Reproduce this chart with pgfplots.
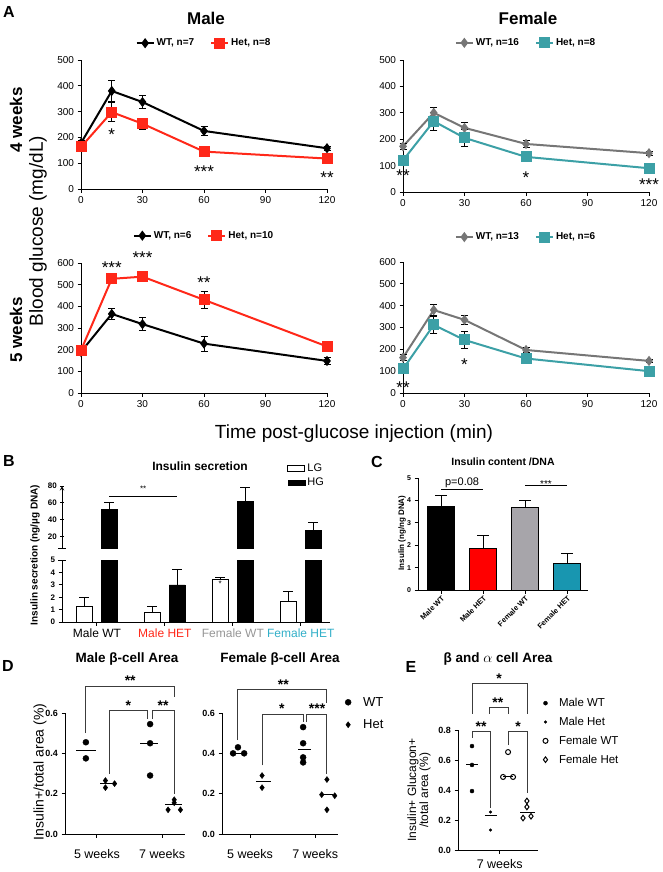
\documentclass[border=0pt]{standalone}
\usepackage{pgfplots}
\pgfplotsset{compat=1.18}
\usepackage{fontspec}
\setmainfont{Liberation Sans}
\definecolor{hetred}{RGB}{255,40,25}
\definecolor{fwt}{RGB}{118,118,118}
\definecolor{fhet}{RGB}{60,160,166}
\definecolor{cgray}{RGB}{167,165,170}
\definecolor{cteal}{RGB}{24,150,176}
\definecolor{lblgray}{RGB}{150,150,150}
\definecolor{lblteal}{RGB}{50,175,200}
\definecolor{brk}{RGB}{60,60,60}
\newcommand{\fs}[1]{\fontsize{#1}{#1}\selectfont}
\pgfplotsset{
  base/.style={scale only axis, axis lines=left, axis line style={-, line width=1pt}, tick style={line width=1pt, black}, tick align=outside, major tick length=3.5pt, clip=false, /pgf/number format/assume math mode=true},
  ogtt/.style={base, width=246pt, xmin=0, xmax=120, xtick={0,30,60,90,120}, ymin=0, ticklabel style={font=\fs{10}},
    legend style={draw=none, fill=none, legend columns=2, font=\bfseries\fs{10}, /tikz/every even column/.append style={column sep=14pt}, anchor=center, inner sep=0pt},
    error bars/y dir=both, error bars/y explicit, error bars/error bar style={line width=0.9pt, black}, error bars/error mark options={rotate=90, mark size=3.5pt, line width=0.9pt, black}},
  wtl/.style={line width=2pt, mark=diamond*, mark size=3.5pt},
  hetl/.style={line width=2pt, mark=square*, mark size=4.5pt},
  barerr/.style={error bars/y dir=plus, error bars/y explicit, error bars/error bar style={line width=1pt, black}, error bars/error mark options={rotate=90, mark size=#1, line width=1pt, black}},
  dec1/.style={/pgf/number format/.cd, fixed, fixed zerofill, precision=1},
}
\begin{document}
\begin{tikzpicture}
\path[use as bounding box] (0pt,0pt) rectangle (663pt,-872pt);

% ---------------- Panel A ----------------
\node[font=\bfseries\fs{16}] at (9pt,-12pt) {A};
\node[font=\bfseries\fs{17}] at (206pt,-18pt) {Male};
\node[font=\bfseries\fs{17}] at (528pt,-18pt) {Female};
\node[font=\bfseries\fs{17}, rotate=90] at (16pt,-120pt) {4 weeks};
\node[font=\bfseries\fs{17}, rotate=90] at (16pt,-330pt) {5 weeks};
\node[font=\fs{19}, rotate=90] at (38pt,-231pt) {Blood glucose (mg/dL)};
\node[font=\fs{19}] at (354pt,-434pt) {Time post-glucose injection (min)};

\begin{axis}[ogtt, at={(81pt,-189pt)}, anchor=south west, height=129pt, ymax=500, ytick={0,100,200,300,400,500}, legend style={at={(0.5,1.13)}}]
\addplot[wtl, black] coordinates {(0,178) +- (0,10) (15,380) +- (0,40) (30,337) +- (0,25) (60,225) +- (0,18) (120,158) +- (0,8)};
\addplot[hetl, hetred] coordinates {(0,163) +- (0,12) (15,298) +- (0,38) (30,253) +- (0,22) (60,145) +- (0,8) (120,118) +- (0,8)};
\legend{{WT, n=7},{Het, n=8}}
\node[font=\fs{17}, anchor=north] at (axis cs:15,248) {*};
\node[font=\fs{17}, anchor=north] at (axis cs:60,105) {***};
\node[font=\fs{17}, anchor=north] at (axis cs:120,81) {**};
\end{axis}

\begin{axis}[ogtt, at={(403pt,-192pt)}, anchor=south west, height=132pt, ymax=500, ytick={0,100,200,300,400,500}, legend style={at={(0.5,1.13)}}]
\addplot[wtl, fwt] coordinates {(0,173) +- (0,12) (15,300) +- (0,20) (30,243) +- (0,20) (60,182) +- (0,12) (120,147) +- (0,8)};
\addplot[hetl, fhet] coordinates {(0,120) +- (0,15) (15,268) +- (0,33) (30,205) +- (0,33) (60,133) +- (0,15) (120,90) +- (0,8)};
\legend{{WT, n=16},{Het, n=8}}
\node[font=\fs{17}, anchor=north] at (axis cs:0,98) {**};
\node[font=\fs{17}, anchor=north] at (axis cs:60,91) {*};
\node[font=\fs{17}, anchor=north] at (axis cs:120,64) {***};
\end{axis}

\begin{axis}[ogtt, at={(81pt,-393pt)}, anchor=south west, height=130pt, ymax=600, ytick={0,100,200,300,400,500,600}, legend style={at={(0.5,1.21)}}]
\addplot[wtl, black] coordinates {(0,190) +- (0,10) (15,365) +- (0,25) (30,318) +- (0,30) (60,228) +- (0,35) (120,148) +- (0,15)};
\addplot[hetl, hetred] coordinates {(0,197) +- (0,12) (15,527) +- (0,18) (30,537) +- (0,12) (60,430) +- (0,40) (120,215) +- (0,25)};
\legend{{WT, n=6},{Het, n=10}}
\node[font=\fs{17}, anchor=north] at (axis cs:15,623) {***};
\node[font=\fs{17}, anchor=north] at (axis cs:30,669) {***};
\node[font=\fs{17}, anchor=north] at (axis cs:60,554) {**};
\end{axis}

\begin{axis}[ogtt, at={(403pt,-393pt)}, anchor=south west, height=131pt, ymax=600, ytick={0,100,200,300,400,500,600}, legend style={at={(0.5,1.19)}}]
\addplot[wtl, fwt] coordinates {(0,162) +- (0,15) (15,380) +- (0,25) (30,335) +- (0,20) (60,197) +- (0,12) (120,147) +- (0,8)};
\addplot[hetl, fhet] coordinates {(0,110) +- (0,15) (15,312) +- (0,40) (30,243) +- (0,40) (60,158) +- (0,22) (120,100) +- (0,8)};
\legend{{WT, n=13},{Het, n=6}}
\node[font=\fs{17}, anchor=north] at (axis cs:0,69) {**};
\node[font=\fs{17}, anchor=north] at (axis cs:30,174) {*};
\end{axis}

% ---------------- Panel B ----------------
\node[font=\bfseries\fs{16}] at (9pt,-461pt) {B};
\node[font=\bfseries\fs{12}] at (200pt,-466pt) {Insulin secretion};
\node[font=\bfseries\fs{10}, rotate=90] at (35pt,-555pt) {Insulin secretion (ng/µg DNA)};

\begin{axis}[base, barerr=5pt, clip=true, clip mode=individual, at={(62pt,-548pt)}, anchor=south west, width=268pt, height=62pt, xmin=0.485, xmax=4.43, ymin=6, ymax=80, axis x line=none, axis y line=left, ytick={20,40,60,80}, extra y ticks={6}, extra y tick labels={}, extra y tick style={tick align=center, major tick length=8pt}, yticklabel style={font=\bfseries\fs{8}},
  legend style={draw=none, fill=none, at={(0.84,1.39)}, anchor=north west, font=\fs{11}, inner sep=0pt, row sep=1pt}, legend cell align=left]
\addlegendimage{area legend, draw=black, fill=white, line width=1pt}
\addlegendimage{area legend, draw=black, fill=black}
\addplot[ybar, bar width=16pt, draw=black, fill=black] coordinates {(1.18,52) +- (0,8) (3.18,62) +- (0,16) (4.18,27) +- (0,10)};
\legend{LG, HG}
\draw[line width=1pt] (axis cs:1.18,68) -- (axis cs:2.18,68);
\node[font=\fs{8}, anchor=north] at (axis cs:1.68,84) {**};
\end{axis}

\begin{axis}[base, barerr=5pt, clip=true, clip mode=individual, at={(62pt,-622pt)}, anchor=south west, width=268pt, height=62pt, xmin=0.485, xmax=4.43, ymin=0, ymax=5, ytick={0,1,2,3,4,5}, extra y ticks={5}, extra y tick labels={}, extra y tick style={tick align=center, major tick length=8pt}, yticklabel style={font=\bfseries\fs{8}}, xtick={1,2,3,4}, xticklabels={Male WT, \textcolor{hetred}{Male HET}, \textcolor{lblgray}{Female WT}, \textcolor{lblteal}{Female HET}}, xticklabel style={font=\fs{12}}]
\addplot[ybar, bar width=16pt, draw=black, fill=white, line width=1pt] coordinates {(0.815,1.25) +- (0,0.75) (1.815,0.8) +- (0,0.45) (2.815,3.4) +- (0,0.2) (3.815,1.65) +- (0,0.8)};
\addplot[ybar, bar width=16pt, draw=black, fill=black] coordinates {(1.18,52) +- (0,8) (2.18,3.0) +- (0,1.25) (3.18,62) +- (0,16) (4.18,27) +- (0,10)};
\node[font=\fs{8}, anchor=north] at (axis cs:2.815,3.63) {*};
\end{axis}

% ---------------- Panel C ----------------
\node[font=\bfseries\fs{16}] at (377pt,-462pt) {C};
\node[font=\bfseries\fs{10.5}] at (503pt,-462pt) {Insulin content /DNA};
\node[font=\bfseries\fs{8}, rotate=90] at (402pt,-533pt) {Insulin (ng/ng DNA)};
\begin{axis}[base, barerr=6pt, clip=true, clip mode=individual, at={(418pt,-590pt)}, anchor=south west, width=170pt, height=112pt, xmin=0.45, xmax=4.5, ymin=0, ymax=5, ytick={0,1,2,3,4,5}, yticklabel style={font=\bfseries\fs{7}}, xtick={1,2,3,4}, xticklabels={Male WT, Male HET, Female WT, Female HET}, xticklabel style={font=\bfseries\fs{7.5}, rotate=45, anchor=north east, inner sep=1pt}]
\addplot[ybar, bar width=27pt, draw=black, fill=black, line width=1pt] coordinates {(1,3.72) +- (0,0.52)};
\addplot[ybar, bar width=27pt, draw=black, fill=red, line width=1pt] coordinates {(2,1.87) +- (0,0.55)};
\addplot[ybar, bar width=27pt, draw=black, fill=cgray, line width=1pt] coordinates {(3,3.68) +- (0,0.32)};
\addplot[ybar, bar width=27pt, draw=black, fill=cteal, line width=1pt] coordinates {(4,1.2) +- (0,0.42)};
\draw[line width=1pt] (axis cs:1,4.5) -- (axis cs:2,4.5);
\node[font=\fs{11}, anchor=south, inner sep=1pt] at (axis cs:1.5,4.5) {p=0.08};
\draw[line width=1pt] (axis cs:3,4.65) -- (axis cs:4,4.65);
\node[font=\fs{10}, anchor=north] at (axis cs:3.5,5.05) {***};
\end{axis}

% ---------------- Panel D ----------------
\node[font=\bfseries\fs{16}] at (8pt,-666pt) {D};
\node[font=\bfseries\fs{13.5}] at (127pt,-659pt) {Male β-cell Area};
\node[font=\bfseries\fs{13.5}] at (280pt,-659pt) {Female β-cell Area};
\node[font=\fs{14}, rotate=90] at (40pt,-772pt) {Insulin+/total area (\%)};

\begin{axis}[base, at={(65pt,-834pt)}, anchor=south west, width=120pt, height=121pt, xmin=0.51, xmax=2.35, ymin=0, ymax=0.6, ytick={0,0.2,0.4,0.6}, yticklabel style={font=\bfseries\fs{9}, dec1}, xtick={1,2}, xticklabels={5 weeks, 7 weeks}, xticklabel style={font=\fs{12.5}, yshift=-8pt}]
\addplot[only marks, mark=*, mark size=3pt, black] coordinates {(0.83,0.455) (0.83,0.375) (1.815,0.545) (1.815,0.45) (1.815,0.29)};
\addplot[only marks, mark=diamond*, mark size=3pt, black] coordinates {(1.13,0.265) (1.13,0.23) (1.27,0.25) (2.185,0.17) (2.185,0.155) (2.09,0.12) (2.28,0.12)};
\addplot[line width=1pt, black] coordinates {(0.68,0.415) (0.98,0.415)};
\addplot[line width=1pt, black] coordinates {(1.05,0.25) (1.31,0.25)};
\addplot[line width=1pt, black] coordinates {(1.66,0.45) (1.94,0.45)};
\addplot[line width=1pt, black] coordinates {(2.05,0.145) (2.3,0.145)};
\draw[brk, line width=1pt] (axis cs:0.83,0.5) -- (axis cs:0.83,0.733) -- (axis cs:2.185,0.733) -- (axis cs:2.185,0.68);
\draw[brk, line width=1pt] (axis cs:1.185,0.30) -- (axis cs:1.185,0.61) -- (axis cs:1.78,0.61) -- (axis cs:1.78,0.57);
\draw[brk, line width=1pt] (axis cs:1.845,0.57) -- (axis cs:1.845,0.61) -- (axis cs:2.185,0.61) -- (axis cs:2.185,0.20);
\node[font=\bfseries\fs{14}, anchor=north] at (axis cs:1.51,0.80) {**};
\node[font=\bfseries\fs{14}, anchor=north] at (axis cs:1.48,0.68) {*};
\node[font=\bfseries\fs{14}, anchor=north] at (axis cs:2.015,0.68) {**};
\end{axis}

\begin{axis}[base, at={(222pt,-834pt)}, anchor=south west, width=116pt, height=121pt, xmin=0.57, xmax=2.35, ymin=0, ymax=0.6, ytick={0,0.2,0.4,0.6}, yticklabel style={font=\bfseries\fs{9}, dec1}, xtick={1,2}, xticklabels={5 weeks, 7 weeks}, xticklabel style={font=\fs{12.5}, yshift=-8pt},
  legend style={draw=none, fill=none, at={(1.06,1.15)}, anchor=north west, font=\fs{13}, row sep=8pt, inner sep=0pt, /tikz/every odd column/.append style={column sep=10pt}}, legend cell align=left]
\addplot[only marks, mark=*, mark size=3pt, black] coordinates {(0.815,0.43) (0.74,0.40) (0.91,0.40) (1.815,0.53) (1.815,0.45) (1.815,0.38) (1.815,0.355)};
\addplot[only marks, mark=diamond*, mark size=3pt, black] coordinates {(1.185,0.29) (1.185,0.23) (2.18,0.27) (2.1,0.195) (2.3,0.19) (2.18,0.12)};
\legend{WT, Het}
\addplot[line width=1pt, black, forget plot] coordinates {(0.72,0.40) (0.92,0.40)};
\addplot[line width=1pt, black, forget plot] coordinates {(1.09,0.26) (1.32,0.26)};
\addplot[line width=1pt, black, forget plot] coordinates {(1.74,0.42) (1.94,0.42)};
\addplot[line width=1pt, black, forget plot] coordinates {(2.08,0.195) (2.28,0.195)};
\draw[brk, line width=1pt] (axis cs:0.815,0.465) -- (axis cs:0.815,0.718) -- (axis cs:2.18,0.718) -- (axis cs:2.18,0.65);
\draw[brk, line width=1pt] (axis cs:1.185,0.34) -- (axis cs:1.185,0.594) -- (axis cs:1.815,0.594) -- (axis cs:1.815,0.555);
\draw[brk, line width=1pt] (axis cs:1.86,0.555) -- (axis cs:1.86,0.594) -- (axis cs:2.18,0.594) -- (axis cs:2.18,0.30);
\node[font=\bfseries\fs{14}, anchor=north] at (axis cs:1.51,0.78) {**};
\node[font=\bfseries\fs{14}, anchor=north] at (axis cs:1.49,0.663) {*};
\node[font=\bfseries\fs{14}, anchor=north] at (axis cs:2.03,0.663) {***};
\end{axis}

% ---------------- Panel E ----------------
\node[font=\bfseries\fs{16}] at (411pt,-667pt) {E};
\node[font=\bfseries\fs{13.5}] at (498pt,-659pt) {β and $\alpha$ cell Area};
\node[font=\fs{12}, rotate=90, align=center] at (419pt,-790pt) {Insulin+ Glucagon+\\/total area (\%)};
\begin{axis}[base, at={(458pt,-850pt)}, anchor=south west, width=80pt, height=120pt, xmin=0.243, xmax=4.57, ymin=0, ymax=0.8, ytick={0,0.2,0.4,0.6,0.8}, yticklabel style={font=\bfseries\fs{9}, dec1}, xtick={2.5}, xticklabels={7 weeks}, xticklabel style={font=\fs{12.5}, yshift=-2pt},
  legend style={draw=none, fill=none, at={(1.06,1.283)}, anchor=north west, font=\fs{11.5}, row sep=5pt, inner sep=0pt, /tikz/every odd column/.append style={column sep=9pt}}, legend cell align=left]
\addplot[only marks, mark=*, mark size=2pt, black] coordinates {(1,0.693) (1,0.567) (1,0.393)};
\addplot[only marks, mark=*, mark size=1.3pt, black] coordinates {(2,0.253) (2,0.133)};
\addplot[only marks, mark=o, mark size=2.5pt, black, mark options={line width=1pt}] coordinates {(2.95,0.653) (2.68,0.487) (3.22,0.487)};
\addplot[only marks, mark=diamond, mark size=2.8pt, black, mark options={line width=1pt}] coordinates {(3.97,0.327) (3.97,0.287) (3.76,0.213) (4.19,0.225)};
\legend{Male WT, Male Het, Female WT, Female Het}
\addplot[line width=1pt, black, forget plot] coordinates {(0.68,0.567) (1.3,0.567)};
\addplot[line width=1pt, black, forget plot] coordinates {(1.7,0.227) (2.35,0.227)};
\addplot[line width=1pt, black, forget plot] coordinates {(2.68,0.487) (3.22,0.487)};
\addplot[line width=1pt, black, forget plot] coordinates {(3.6,0.253) (4.4,0.253)};
\draw[brk, line width=1pt] (axis cs:1,0.747) -- (axis cs:1,0.793) -- (axis cs:2,0.793) -- (axis cs:2,0.28);
\draw[brk, line width=1pt] (axis cs:3,0.70) -- (axis cs:3,0.793) -- (axis cs:4,0.793) -- (axis cs:4,0.38);
\draw[brk, line width=1pt] (axis cs:1.92,0.907) -- (axis cs:1.92,0.953) -- (axis cs:2.95,0.953) -- (axis cs:2.95,0.907);
\draw[brk, line width=1pt] (axis cs:1,0.907) -- (axis cs:1,1.113) -- (axis cs:4,1.113) -- (axis cs:4,0.907);
\node[font=\bfseries\fs{14}, anchor=north] at (axis cs:1.49,0.88) {**};
\node[font=\bfseries\fs{14}, anchor=north] at (axis cs:3.49,0.88) {*};
\node[font=\bfseries\fs{14}, anchor=north] at (axis cs:2.4,1.04) {**};
\node[font=\bfseries\fs{14}, anchor=north] at (axis cs:2.46,1.2) {*};
\end{axis}
\end{tikzpicture}
\end{document}
